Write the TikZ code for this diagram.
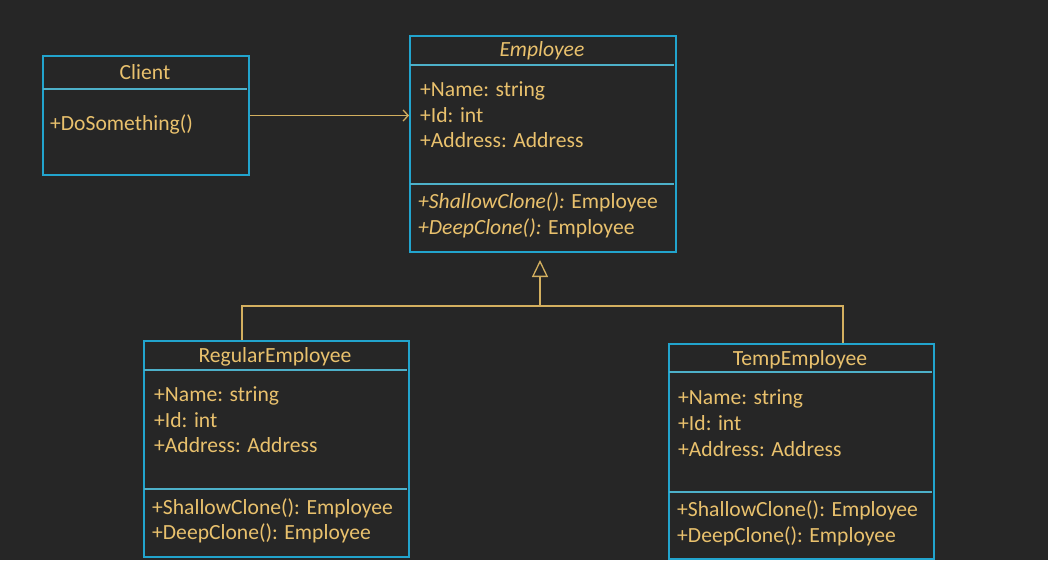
\documentclass[tikz,border=0pt]{standalone}
\usepackage{fontspec}
\setmainfont{Carlito}
\usetikzlibrary{arrows.meta}
\definecolor{bg}{HTML}{262626}
\definecolor{umlborder}{HTML}{22A4CD}
\definecolor{umldiv}{HTML}{4DB0C9}
\definecolor{umltext}{HTML}{E9C16D}
\definecolor{umlline}{HTML}{D3AF5F}
\begin{document}
\begin{tikzpicture}[x=1pt,y=-1pt,
  classbox/.style={draw=umlborder, line width=2pt, rectangle, inner sep=0pt, anchor=north west},
  divline/.style={draw=umldiv, line width=1.5pt},
  title/.style={text=umltext, font=\fontsize{21.6}{26}\selectfont, anchor=base, inner sep=0pt},
  member/.style={text=umltext, font=\fontsize{21.6}{26}\selectfont, anchor=base west, inner sep=0pt},
  conn/.style={draw=umlline, line width=1.5pt}]
\fill[bg] (0,0) rectangle (1048,560);
\useasboundingbox (0,0) rectangle (1048,560);

% Client
\node[classbox, minimum width=206pt, minimum height=119pt] (client) at (42,55) {};
\draw[divline] (43,89) -- (247,89);
\node[title] (clienttitle) at (145,79) {Client};
\node[member] (clientop) at (50,130) {+DoSomething()};

% Employee
\node[classbox, minimum width=266pt, minimum height=216pt] (employee) at (409,35) {};
\draw[divline] (410,65) -- (674,65);
\draw[divline] (410,184) -- (674,184);
\node[title, font=\fontsize{21.6}{26}\selectfont\itshape] (emptitle) at (542,56) {Employee};
\node[member] (empa1) at (420,96) {+Name: string};
\node[member] (empa2) at (420,122) {+Id: int};
\node[member] (empa3) at (420,147) {+Address: Address};
\node[member] (empm1) at (418,208) {\textit{+ShallowClone():} Employee};
\node[member] (empm2) at (418,234) {\textit{+DeepClone():} Employee};

% RegularEmployee
\node[classbox, minimum width=265pt, minimum height=216pt] (regular) at (143,340) {};
\draw[divline] (144,370) -- (407,370);
\node[title] (regtitle) at (275,362) {RegularEmployee};
\draw[divline] (144,489) -- (407,489);
\node[member] (rega1) at (154,401) {+Name: string};
\node[member] (rega2) at (154,427) {+Id: int};
\node[member] (rega3) at (154,452) {+Address: Address};
\node[member] (regm1) at (152,514) {+ShallowClone(): Employee};
\node[member] (regm2) at (152,539) {+DeepClone(): Employee};

% TempEmployee
\node[classbox, minimum width=265pt, minimum height=215pt] (temp) at (668,343) {};
\draw[divline] (669,372) -- (932,372);
\node[title] (temptitle) at (800,365) {TempEmployee};
\draw[divline] (669,492) -- (932,492);
\node[member] (tempa1) at (678,404) {+Name: string};
\node[member] (tempa2) at (678,430) {+Id: int};
\node[member] (tempa3) at (678,456) {+Address: Address};
\node[member] (tempm1) at (677,516) {+ShallowClone(): Employee};
\node[member] (tempm2) at (677,542) {+DeepClone(): Employee};

% Association
\draw[conn, -{Straight Barb[length=5pt, width=11pt, line width=1.3pt]}] (client.east) -- (client.east -| employee.west);

% Generalization
\coordinate (junction) at (540,306);
\coordinate (rj) at (242,306);
\coordinate (tj) at (843,306);
\draw[conn, shorten >=7pt, -{Triangle[open, length=17pt, width=16pt, fill=bg, line width=1.3pt]}] (junction) -- (junction |- employee.south);
\draw[conn] (regular.north -| rj) -- (rj) -- (tj) -- (temp.north -| tj);
\end{tikzpicture}
\end{document}
